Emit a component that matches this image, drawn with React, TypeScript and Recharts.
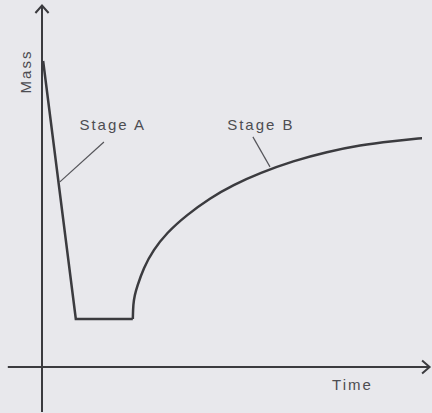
import React from 'react';
import {
  LineChart,
  Line,
  XAxis,
  YAxis,
  ReferenceLine,
  ReferenceDot,
} from 'recharts';

// Stage A: steep fall, then the flat bottom
const stageATime = [0.03, 0.89, 2.39];
const stageAMass = [10.2, 1.6, 1.6];

// Stage B: recovery curve
const stageBTime = [2.39, 2.4, 2.44, 2.5, 2.67, 2.93, 3.28, 3.81, 4.42, 5.03, 5.74, 6.61, 7.5, 8.37, 9.24, 10.03];
const stageBMass = [1.6, 2.1, 2.4, 2.67, 3.3, 3.9, 4.47, 5.07, 5.63, 6.07, 6.47, 6.87, 7.17, 7.4, 7.53, 7.63];

const INK = '#3b3b3f';
const TEXT = '#4d4d52';
const FONT = '"Liberation Sans", Arial, Helvetica, sans-serif';

const stageAData = stageATime.map((t, i) => ({ t, m: stageAMass[i] }));
const stageBData = stageBTime.map((t, i) => ({ t, m: stageBMass[i] }));

const Arrow = (props: any) => {
  const { x1, y1, x2, y2 } = props;
  const ang = Math.atan2(y2 - y1, x2 - x1);
  const len = 10;
  const spread = 0.72;
  const ax = x2 - len * Math.cos(ang - spread);
  const ay = y2 - len * Math.sin(ang - spread);
  const bx = x2 - len * Math.cos(ang + spread);
  const by = y2 - len * Math.sin(ang + spread);
  return (
    <g>
      <line x1={x1} y1={y1} x2={x2} y2={y2} stroke={INK} strokeWidth={2} />
      <path d={`M${ax},${ay} L${x2},${y2} L${bx},${by}`} fill="none" stroke={INK} strokeWidth={2} />
    </g>
  );
};

const Leader = (props: any) => {
  const { x1, y1, x2, y2 } = props;
  return <line x1={x1} y1={y1} x2={x2} y2={y2} stroke="#55555a" strokeWidth={1.2} />;
};

const makeText = (value: string, rotate = false) => (p: any) => (
  <text
    x={p.cx}
    y={p.cy}
    textAnchor="middle"
    dominantBaseline="central"
    fill={TEXT}
    fontFamily={FONT}
    fontSize={15}
    letterSpacing={2}
    transform={rotate ? `rotate(-90 ${p.cx} ${p.cy})` : undefined}
  >
    {value}
  </text>
);

export default function App() {
  return (
    <div style={{ position: 'absolute', left: 0, top: 0, width: 432, height: 413, background: '#e8e8ec' }}>
      <LineChart width={432} height={413} margin={{ top: 7, right: 10, bottom: 46, left: 42 }}>
        <XAxis type="number" dataKey="t" domain={[0, 10]} hide allowDataOverflow />
        <YAxis type="number" dataKey="m" domain={[0, 12]} hide allowDataOverflow />

        <ReferenceLine
          segment={[{ x: 0, y: -1.5 }, { x: 0, y: 12.05 }]}
          ifOverflow="visible"
          shape={Arrow}
        />
        <ReferenceLine
          segment={[{ x: -0.9, y: 0 }, { x: 10.2, y: 0 }]}
          ifOverflow="visible"
          shape={Arrow}
        />

        <ReferenceLine
          segment={[{ x: 1.63, y: 7.5 }, { x: 0.47, y: 6.17 }]}
          ifOverflow="visible"
          shape={Leader}
        />
        <ReferenceLine
          segment={[{ x: 5.55, y: 7.67 }, { x: 6.0, y: 6.67 }]}
          ifOverflow="visible"
          shape={Leader}
        />

        <Line
          data={stageAData}
          dataKey="m"
          type="linear"
          stroke={INK}
          strokeWidth={2.5}
          dot={false}
          isAnimationActive={false}
        />
        <Line
          data={stageBData}
          dataKey="m"
          type="basis"
          stroke={INK}
          strokeWidth={2.5}
          dot={false}
          isAnimationActive={false}
        />

        <ReferenceDot x={-0.43} y={9.85} r={0} ifOverflow="visible" shape={makeText('Mass', true)} />
        <ReferenceDot x={1.86} y={8.1} r={0} ifOverflow="visible" shape={makeText('Stage A')} />
        <ReferenceDot x={5.76} y={8.1} r={0} ifOverflow="visible" shape={makeText('Stage B')} />
        <ReferenceDot x={8.17} y={-0.58} r={0} ifOverflow="visible" shape={makeText('Time')} />
      </LineChart>
    </div>
  );
}
